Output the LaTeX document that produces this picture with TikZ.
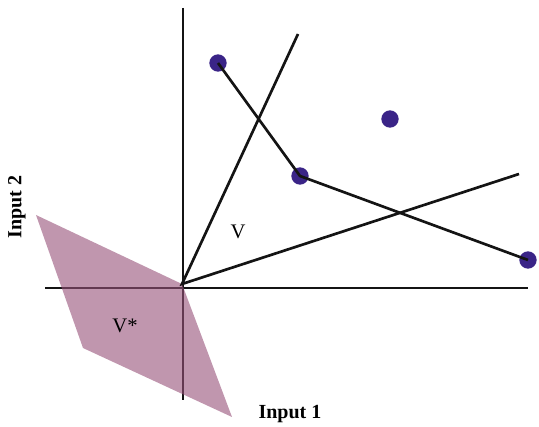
\documentclass[tikz,border=0pt]{standalone}
\usepackage{fontspec}
\setmainfont{Liberation Serif}
\usetikzlibrary{positioning}
\definecolor{axiscolor}{RGB}{20, 20, 20}
\definecolor{conecolor}{RGB}{150, 80, 120}
\definecolor{pointcolor}{RGB}{58, 36, 135}
\tikzset{
axisline/.style={
  draw=axiscolor,
  line width=1.4pt
},
rayline/.style={
  draw=axiscolor,
  line width=2pt
},
polarfill/.style={
  fill=conecolor,
  fill opacity=0.6
},
datapoint/.style={
  circle,
  fill=pointcolor,
  inner sep=0pt,
  minimum size=13pt
},
conelabel/.style={
  font=\fontsize{15.5}{18}\selectfont,
  text=black
},
axislabel/.style={
  font=\fontsize{15}{18}\selectfont\bfseries,
  text=black
}
}

\begin{document}
\begin{tikzpicture}[x=0.75pt, y=-0.75pt]
\useasboundingbox (0,0) rectangle (539,427);

% ============================================================================
% AXES
% ============================================================================
\coordinate (xleft) at (45,288);
\coordinate (xright) at (528,288);
\coordinate (ytop) at (183,8);
\coordinate (ybot) at (183,400);
\draw[axisline] (xleft) -- (xright);
\draw[axisline] (ytop) -- (ybot);

% ============================================================================
% POLAR CONE V*
% ============================================================================
\coordinate (apex) at (182,284);
\coordinate (polar_a) at (36,215);
\coordinate (polar_b) at (83,348);
\coordinate (polar_c) at (232,417);
\path[polarfill] (apex) -- (polar_a) -- (polar_b) -- (polar_c) -- cycle;
\node[conelabel] (vstar_label) at (125,326) {V*};

% ============================================================================
% CONE V
% ============================================================================
\coordinate (ray_up) at (298,34);
\coordinate (ray_right) at (519,174);
\draw[rayline] (ray_up) -- (apex) -- (ray_right);
\node[conelabel] (v_label) at (238,232) {V};

% ============================================================================
% DATA POINTS
% ============================================================================
\node[datapoint] (p1) at (218,63) {};
\node[datapoint] (p2) at (300,176) {};
\node[datapoint] (p3) at (390,119) {};
\node[datapoint] (p4) at (528,260) {};
\draw[rayline] (p1.center) -- (p2.center) -- (p4.center);

% Etiquetas dos eixos
\node[axislabel] (input1) at (290,414) {Input 1};
\node[axislabel, rotate=90] (input2) at (17,207) {Input 2};

\end{tikzpicture}
\end{document}
